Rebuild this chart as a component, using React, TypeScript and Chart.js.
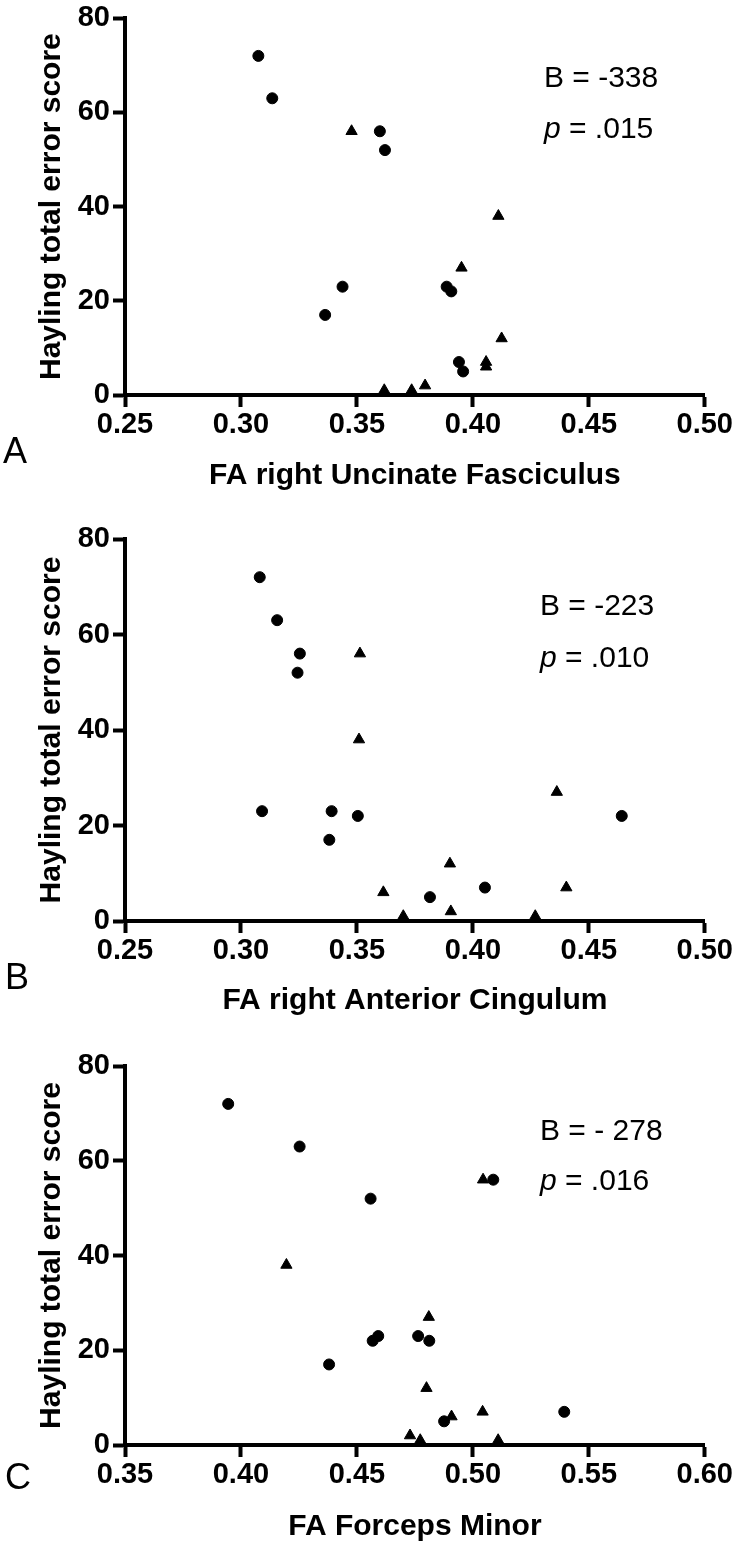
import React, { useEffect, useRef } from 'react';
import { Chart, registerables } from 'chart.js';

Chart.register(...registerables);

// ---------- data ----------
const yTitle = 'Hayling total error score';
const yTickStep = 20;
const yMin = 0;
const yMax = 80;

// Panel A: FA right Uncinate Fasciculus
const ufCircleX = [0.3075, 0.3135, 0.3599, 0.3621, 0.3438, 0.3363, 0.3887, 0.3907, 0.394, 0.3958];
const ufCircleY = [72, 63, 56, 52, 23, 17, 23, 22, 7, 5];
const ufTriangleX = [0.3477, 0.411, 0.3951, 0.4124, 0.4057, 0.4057, 0.3618, 0.3736, 0.3794];
const ufTriangleY = [56, 38, 27, 12, 7, 6, 1, 1, 2];

// Panel B: FA right Anterior Cingulum
const acCircleX = [0.3081, 0.3156, 0.3254, 0.3244, 0.3091, 0.3391, 0.3504, 0.3381, 0.4642, 0.3815, 0.4052];
const acCircleY = [72, 63, 56, 52, 23, 23, 22, 17, 22, 5, 7];
const acTriangleX = [0.3513, 0.3509, 0.4362, 0.3901, 0.3614, 0.37, 0.3905, 0.4269, 0.4403];
const acTriangleY = [56, 38, 27, 12, 6, 1, 2, 1, 7];

// Panel C: FA Forceps Minor
const fmCircleX = [0.3945, 0.4253, 0.4559, 0.5088, 0.4568, 0.4592, 0.4764, 0.4812, 0.438, 0.4876, 0.5394];
const fmCircleY = [72, 63, 52, 56, 22, 23, 23, 22, 17, 5, 7];
const fmTriangleX = [0.5044, 0.4196, 0.481, 0.48, 0.4908, 0.5042, 0.4729, 0.4773, 0.5109];
const fmTriangleY = [56, 38, 27, 12, 6, 7, 2, 1, 1];

const panelLetters = ['A', 'B', 'C'];
const xTitles = ['FA right Uncinate Fasciculus', 'FA right Anterior Cingulum', 'FA Forceps Minor'];
const xMins = [0.25, 0.25, 0.35];
const xMaxs = [0.5, 0.5, 0.6];
const xTickStep = 0.05;
const bLabels = ['B = -338', 'B = -223', 'B = - 278'];
const pLabels = [' = .015', ' = .010', ' = .016'];

const FONT = "'Liberation Sans', Arial, Helvetica, sans-serif";

// ---------- layout (pixels) ----------
const layouts = [
  { top: 0, height: 500, areaTop: 16, areaBottom: 395, xTitlePad: 6, letterX: 3, letterY: 453, annoX: 544, annoY1: 87, annoY2: 138 },
  { top: 500, height: 520, areaTop: 39, areaBottom: 421, xTitlePad: 1, letterX: 5, letterY: 479, annoX: 540, annoY1: 115, annoY2: 167 },
  { top: 1020, height: 528, areaTop: 46, areaBottom: 425, xTitlePad: 3, letterX: 5, letterY: 459, annoX: 540, annoY1: 120, annoY2: 170 },
];

const series = [
  { cx: ufCircleX, cy: ufCircleY, tx: ufTriangleX, ty: ufTriangleY },
  { cx: acCircleX, cy: acCircleY, tx: acTriangleX, ty: acTriangleY },
  { cx: fmCircleX, cy: fmCircleY, tx: fmTriangleX, ty: fmTriangleY },
];

const zip = (xs: number[], ys: number[]) => xs.map((x, i) => ({ x, y: ys[i] }));

const overlayPlugin = {
  id: 'overlay',
  afterDraw(chart: any, _args: any, opts: any) {
    const ctx = chart.ctx;
    ctx.save();
    ctx.fillStyle = '#000';
    ctx.textAlign = 'left';
    ctx.font = `36px ${FONT}`;
    ctx.textBaseline = 'middle';
    ctx.fillText(opts.letter, opts.letterX, opts.letterY);
    ctx.textBaseline = 'alphabetic';
    ctx.font = `30px ${FONT}`;
    ctx.fillText(opts.b, opts.annoX, opts.annoY1);
    ctx.font = `italic 30px ${FONT}`;
    ctx.fillText('p', opts.annoX, opts.annoY2);
    const w = ctx.measureText('p').width;
    ctx.font = `30px ${FONT}`;
    ctx.fillText(opts.p, opts.annoX + w, opts.annoY2);
    ctx.restore();
  },
};

function Panel({ idx }: { idx: number }) {
  const ref = useRef<HTMLCanvasElement | null>(null);
  const L = layouts[idx];
  useEffect(() => {
    const s = series[idx];
    const tickFont = { family: FONT, size: 29, weight: 'bold' as const, lineHeight: 1.05 };
    const chart = new Chart(ref.current as HTMLCanvasElement, {
      type: 'scatter',
      data: {
        datasets: [
          {
            data: zip(s.cx, s.cy),
            pointStyle: 'circle',
            pointRadius: 5.5,
            backgroundColor: '#000',
            borderColor: '#000',
            borderWidth: 1,
            clip: false,
          } as any,
          {
            data: zip(s.tx, s.ty),
            pointStyle: 'triangle',
            pointRadius: 6.5,
            backgroundColor: '#000',
            borderColor: '#000',
            borderWidth: 1,
            clip: false,
          } as any,
        ],
      },
      options: {
        responsive: false,
        maintainAspectRatio: false,
        animation: false,
        events: [],
        layout: { padding: { top: L.areaTop, right: 31, left: 0, bottom: 0 } },
        plugins: {
          legend: { display: false },
          tooltip: { enabled: false },
          overlay: {
            letter: panelLetters[idx],
            letterX: L.letterX,
            letterY: L.letterY,
            b: bLabels[idx],
            p: pLabels[idx],
            annoX: L.annoX,
            annoY1: L.annoY1,
            annoY2: L.annoY2,
          },
        } as any,
        scales: {
          x: {
            type: 'linear',
            min: xMins[idx],
            max: xMaxs[idx],
            ticks: {
              stepSize: xTickStep,
              callback: (v: any) => Number(v).toFixed(2),
              font: tickFont,
              color: '#000',
              padding: 3,
              maxRotation: 0,
              autoSkip: false,
            },
            border: { display: true, color: '#000', width: 4 },
            grid: { display: true, drawOnChartArea: false, drawTicks: true, tickLength: 12, tickWidth: 4, tickColor: '#000', color: '#000' },
            title: {
              display: true,
              text: xTitles[idx],
              font: { family: FONT, size: 30, weight: 'bold' },
              color: '#000',
              padding: { top: 0, bottom: L.xTitlePad },
            },
            afterFit: (scale: any) => {
              scale.height = L.height - L.areaBottom;
            },
          },
          y: {
            type: 'linear',
            min: yMin,
            max: yMax,
            ticks: {
              stepSize: yTickStep,
              font: tickFont,
              color: '#000',
              padding: 3,
            },
            border: { display: true, color: '#000', width: 4 },
            grid: { display: true, drawOnChartArea: false, drawTicks: true, tickLength: 12, tickWidth: 4, tickColor: '#000', color: '#000' },
            title: {
              display: true,
              text: yTitle,
              font: { family: FONT, size: 30, weight: 'bold' },
              color: '#000',
              padding: { top: 33.5, bottom: 0 },
            },
            afterFit: (scale: any) => {
              scale.width = 125;
            },
          },
        } as any,
      },
      plugins: [overlayPlugin],
    });
    return () => chart.destroy();
  }, [idx]);
  return (
    <canvas
      ref={ref}
      width={736}
      height={L.height}
      style={{ position: 'absolute', left: 0, top: L.top, display: 'block' }}
    />
  );
}

export default function App() {
  return (
    <div style={{ position: 'absolute', left: 0, top: 0, width: 736, height: 1548, background: '#fff' }}>
      <Panel idx={0} />
      <Panel idx={1} />
      <Panel idx={2} />
    </div>
  );
}
